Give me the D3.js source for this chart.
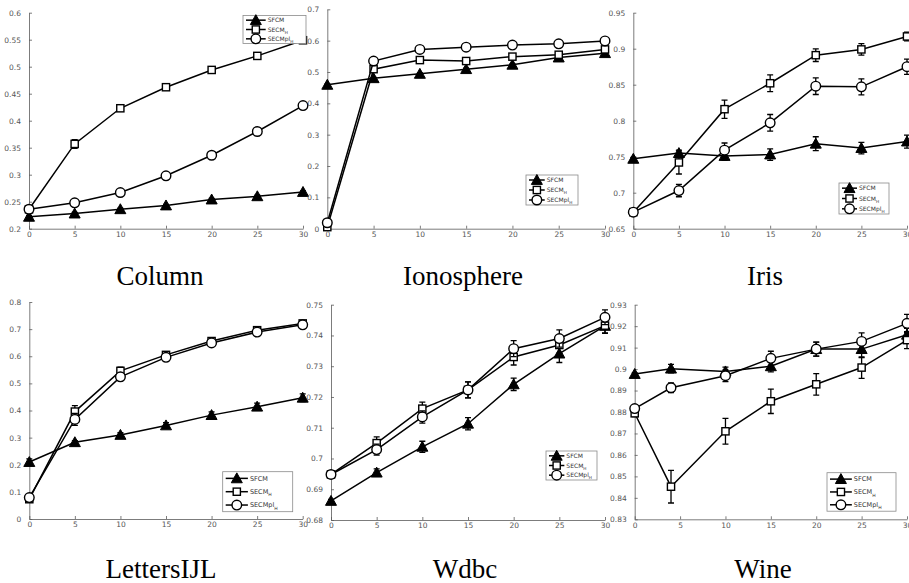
<!DOCTYPE html>
<html>
<head>
<meta charset="utf-8">
<script src="https://cdn.jsdelivr.net/npm/d3@7/dist/d3.min.js"></script>
<style>
  body { margin: 0; background: #fff; }
  svg { display: block; }
</style>
</head>
<body>
<div id="canvas"></div>
<script>
// Nombres de las series y eje x comun
const seriesNames = ["SFCM", "SECM", "SECMpl"];
const xValues = [0, 5, 10, 15, 20, 25, 30];
const xValuesWine = [0, 4, 10, 15, 20, 25, 30];
const xTicks = [0, 5, 10, 15, 20, 25, 30];

// Column
const columnSFCM = [0.222, 0.228, 0.236, 0.243, 0.254, 0.260, 0.268];
const columnSECM = [0.236, 0.357, 0.423, 0.462, 0.494, 0.520, 0.549];
const columnSECMpl = [0.236, 0.248, 0.267, 0.298, 0.336, 0.380, 0.428];
const columnErrSFCM = [0.002, 0.002, 0.002, 0.002, 0.002, 0.002, 0.002];
const columnErrSECM = [0.002, 0.008, 0.005, 0.004, 0.005, 0.003, 0.003];
const columnErrSECMpl = [0.002, 0.002, 0.002, 0.002, 0.002, 0.002, 0.003];
const columnTicks = [0.2, 0.25, 0.3, 0.35, 0.4, 0.45, 0.5, 0.55, 0.6];

// Ionosphere
const ionoSFCM = [0.459, 0.480, 0.494, 0.509, 0.523, 0.546, 0.560];
const ionoSECM = [0.005, 0.509, 0.538, 0.535, 0.549, 0.555, 0.572];
const ionoSECMpl = [0.019, 0.535, 0.572, 0.579, 0.586, 0.590, 0.599];
const ionoErrSFCM = [0.002, 0.003, 0.003, 0.003, 0.003, 0.003, 0.003];
const ionoErrSECM = [0.002, 0.003, 0.003, 0.003, 0.003, 0.003, 0.003];
const ionoErrSECMpl = [0.002, 0.003, 0.003, 0.003, 0.003, 0.003, 0.003];
const ionoTicks = [0, 0.1, 0.2, 0.3, 0.4, 0.5, 0.6, 0.7];

// Iris
const irisSFCM = [0.747, 0.755, 0.751, 0.753, 0.768, 0.762, 0.771];
const irisSECM = [0.673, 0.742, 0.816, 0.852, 0.891, 0.899, 0.917];
const irisSECMpl = [0.673, 0.703, 0.759, 0.797, 0.848, 0.847, 0.875];
const irisErrSFCM = [0.002, 0.004, 0.006, 0.008, 0.0097, 0.008, 0.009];
const irisErrSECM = [0.002, 0.016, 0.0127, 0.0116, 0.0088, 0.008, 0.006];
const irisErrSECMpl = [0.002, 0.0086, 0.01, 0.0116, 0.0116, 0.011, 0.0106];
const irisTicks = [0.65, 0.7, 0.75, 0.8, 0.85, 0.9, 0.95];

// LettersIJL
const lettersSFCM = [0.210, 0.283, 0.310, 0.345, 0.383, 0.414, 0.447];
const lettersSECM = [0.073, 0.396, 0.546, 0.605, 0.656, 0.696, 0.721];
const lettersSECMpl = [0.079, 0.367, 0.524, 0.596, 0.649, 0.689, 0.716];
const lettersErrSFCM = [0.012, 0.006, 0.008, 0.010, 0.012, 0.013, 0.014];
const lettersErrSECM = [0.010, 0.022, 0.014, 0.010, 0.008, 0.008, 0.008];
const lettersErrSECMpl = [0.010, 0.022, 0.014, 0.010, 0.008, 0.006, 0.006];
const lettersTicks = [0, 0.1, 0.2, 0.3, 0.4, 0.5, 0.6, 0.7, 0.8];

// Wdbc
const wdbcSFCM = [0.6862, 0.6954, 0.7038, 0.7113, 0.7241, 0.7341, 0.7431];
const wdbcSECM = [0.6948, 0.7050, 0.7162, 0.7223, 0.7330, 0.7369, 0.7432];
const wdbcSECMpl = [0.6948, 0.7029, 0.7135, 0.7223, 0.7357, 0.7390, 0.7459];
const wdbcErrSFCM = [0.0005, 0.0012, 0.0018, 0.0020, 0.0020, 0.0029, 0.0023];
const wdbcErrSECM = [0.0005, 0.0020, 0.0021, 0.0026, 0.0026, 0.0027, 0.0025];
const wdbcErrSECMpl = [0.0005, 0.0018, 0.0020, 0.0026, 0.0026, 0.0028, 0.0024];
const wdbcTicks = [0.68, 0.69, 0.7, 0.71, 0.72, 0.73, 0.74, 0.75];

// Wine
const wineSFCM = [0.8977, 0.9002, 0.8989, 0.9013, 0.9093, 0.9093, 0.9160];
const wineSECM = [0.8794, 0.8452, 0.8710, 0.8850, 0.8929, 0.9007, 0.9135];
const wineSECMpl = [0.8816, 0.8913, 0.8969, 0.9050, 0.9093, 0.9129, 0.9213];
const wineErrSFCM = [0.0005, 0.0020, 0.0020, 0.0026, 0.0033, 0.0040, 0.0030];
const wineErrSECM = [0.0015, 0.0076, 0.0060, 0.0057, 0.0050, 0.0050, 0.0040];
const wineErrSECMpl = [0.0010, 0.0023, 0.0027, 0.0033, 0.0033, 0.0040, 0.0042];
const wineTicks = [0.83, 0.84, 0.85, 0.86, 0.87, 0.88, 0.89, 0.9, 0.91, 0.92, 0.93];

// Configuracion de cada panel (posiciones en pixeles)
const panels = [
  { title: "Column", xs: xValues, ys: [columnSFCM, columnSECM, columnSECMpl],
    errs: [columnErrSFCM, columnErrSECM, columnErrSECMpl], ticks: columnTicks,
    domain: [0.2, 0.6], px: [29, 303], py: [228.7, 12.7], titleX: 160, titleY: 285,
    legend: [243, 15.5, 63, 28] },
  { title: "Ionosphere", xs: xValues, ys: [ionoSFCM, ionoSECM, ionoSECMpl],
    errs: [ionoErrSFCM, ionoErrSECM, ionoErrSECMpl], ticks: ionoTicks,
    domain: [0, 0.7], px: [327.3, 605], py: [228.7, 9.3], titleX: 463, titleY: 285,
    legend: [526, 175, 52, 30] },
  { title: "Iris", xs: xValues, ys: [irisSFCM, irisSECM, irisSECMpl],
    errs: [irisErrSFCM, irisErrSECM, irisErrSECMpl], ticks: irisTicks,
    domain: [0.65, 0.95], px: [633.3, 907], py: [228.7, 12.7], titleX: 765, titleY: 285,
    legend: [839, 183, 50, 31] },
  { title: "LettersIJL", xs: xValues, ys: [lettersSFCM, lettersSECM, lettersSECMpl],
    errs: [lettersErrSFCM, lettersErrSECM, lettersErrSECMpl], ticks: lettersTicks,
    domain: [0, 0.8], px: [29.3, 302.7], py: [519, 302], titleX: 161, titleY: 578,
    legend: [222.7, 471.7, 70, 40] },
  { title: "Wdbc", xs: xValues, ys: [wdbcSFCM, wdbcSECM, wdbcSECMpl],
    errs: [wdbcErrSFCM, wdbcErrSECM, wdbcErrSECMpl], ticks: wdbcTicks,
    domain: [0.68, 0.75], px: [331, 605], py: [520, 304.7], titleX: 465, titleY: 578,
    legend: [546, 451, 51, 29] },
  { title: "Wine", xs: xValuesWine, ys: [wineSFCM, wineSECM, wineSECMpl],
    errs: [wineErrSFCM, wineErrSECM, wineErrSECMpl], ticks: wineTicks,
    domain: [0.83, 0.93], px: [634.7, 907], py: [519.3, 304.7], titleX: 763, titleY: 578,
    legend: [827, 472.7, 69, 38.5] }
];

const width = 909;
const height = 583;
const axisColor = "#5a5a5a";
const tickFont = "DejaVu Sans, sans-serif";

const svg = d3.select("#canvas").append("svg")
  .attr("width", width)
  .attr("height", height);

// Dibuja un marcador segun la serie
function drawMarker(g, k, cx, cy) {
  if (k === 0) {
    const s = 5.5;
    g.append("path")
      .attr("d", `M${cx},${cy - s} L${cx + s},${cy + s * 0.8} L${cx - s},${cy + s * 0.8} Z`)
      .attr("fill", "#000").attr("stroke", "#000").attr("stroke-width", 1);
  } else if (k === 1) {
    g.append("rect")
      .attr("x", cx - 3.6).attr("y", cy - 3.6)
      .attr("width", 7.2).attr("height", 7.2)
      .attr("fill", "#fff").attr("stroke", "#000").attr("stroke-width", 1.4);
  } else {
    g.append("circle")
      .attr("cx", cx).attr("cy", cy).attr("r", 4.8)
      .attr("fill", "#fff").attr("stroke", "#000").attr("stroke-width", 1.4);
  }
}

function fmt(v) {
  return String(+v.toFixed(2));
}

panels.forEach(p => {
  const g = svg.append("g");

  const x = d3.scaleLinear().domain([0, 30]).range(p.px);
  const y = d3.scaleLinear().domain(p.domain).range(p.py);

  // Eje x
  const xAxis = g.append("g")
    .attr("transform", `translate(0, ${p.py[0]})`)
    .call(d3.axisBottom(x).tickValues(xTicks).tickSizeInner(-3).tickSizeOuter(0).tickPadding(3));

  // Eje y
  const yAxis = g.append("g")
    .attr("transform", `translate(${p.px[0]}, 0)`)
    .call(d3.axisLeft(y).tickValues(p.ticks).tickFormat(fmt).tickSizeInner(-3).tickSizeOuter(0).tickPadding(8));

  [xAxis, yAxis].forEach(a => {
    a.select(".domain").attr("stroke", axisColor).attr("stroke-width", 0.8);
    a.selectAll(".tick line").attr("stroke", axisColor).attr("stroke-width", 0.8);
    a.selectAll(".tick text")
      .attr("fill", "#555")
      .style("font-family", tickFont)
      .style("font-size", "7.5px");
  });

  // Series: lineas, barras de error y marcadores
  p.ys.forEach((vals, k) => {
    const pts = vals.map((v, i) => ({ x: p.xs[i], y: v, e: p.errs[k][i] }));
    const line = d3.line().x(d => x(d.x)).y(d => y(d.y));

    g.append("path")
      .datum(pts)
      .attr("d", line)
      .attr("fill", "none")
      .attr("stroke", "#000")
      .attr("stroke-width", 1.5);

    pts.forEach(d => {
      const cx = x(d.x);
      const y1 = y(d.y + d.e), y2 = y(d.y - d.e);
      g.append("path")
        .attr("d", `M${cx},${y1} L${cx},${y2} M${cx - 3},${y1} L${cx + 3},${y1} M${cx - 3},${y2} L${cx + 3},${y2}`)
        .attr("fill", "none")
        .attr("stroke", "#000")
        .attr("stroke-width", 1.3);
    });

    pts.forEach(d => drawMarker(g, k, x(d.x), y(d.y)));
  });

  // Leyenda
  const [lx, ly, lw, lh] = p.legend;
  g.append("rect")
    .attr("x", lx).attr("y", ly).attr("width", lw).attr("height", lh)
    .attr("fill", "#fff").attr("stroke", "#8a8a8a").attr("stroke-width", 0.8);

  const rowH = lh / 3;
  const fs = lh > 35 ? 6.5 : 6;
  seriesNames.forEach((name, k) => {
    const cy = ly + rowH * (k + 0.5);
    const x1 = lx + 3, x2 = lx + lw * 0.36;
    g.append("line")
      .attr("x1", x1).attr("x2", x2).attr("y1", cy).attr("y2", cy)
      .attr("stroke", "#000").attr("stroke-width", 1.5);
    drawMarker(g, k, (x1 + x2) / 2, cy);

    const t = g.append("text")
      .attr("x", x2 + 2)
      .attr("y", cy + fs * 0.35)
      .style("font-family", tickFont)
      .style("font-size", fs + "px")
      .attr("fill", "#333")
      .text(name);
    if (k > 0) {
      t.append("tspan")
        .attr("dy", fs * 0.35)
        .style("font-size", (fs * 0.7) + "px")
        .text("H");
    }
  });

  // Titulo del panel
  svg.append("text")
    .attr("x", p.titleX)
    .attr("y", p.titleY)
    .attr("text-anchor", "middle")
    .style("font-family", "Liberation Serif, serif")
    .style("font-size", "27px")
    .attr("fill", "#000")
    .text(p.title);
});
</script>
</body>
</html>
